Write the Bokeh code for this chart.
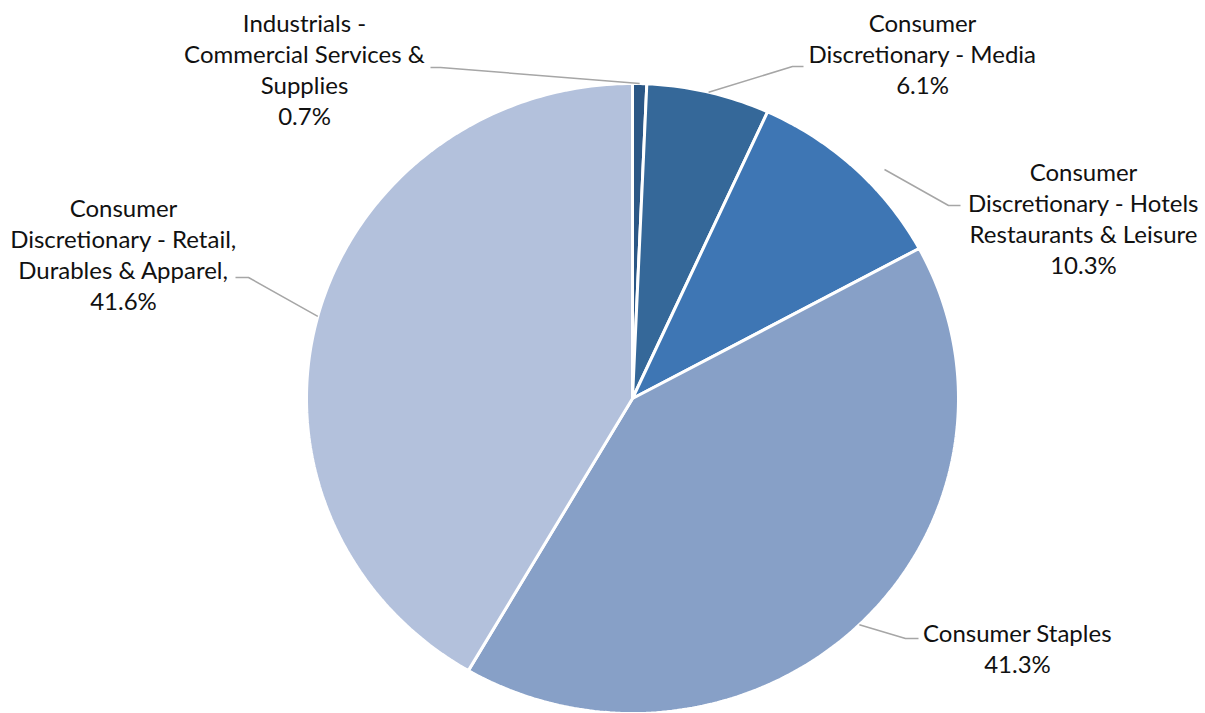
import numpy as np
from bokeh.plotting import figure
from bokeh.models import Range1d, ColumnDataSource
from bokeh.core.properties import value
from bokeh.embed import file_html
from bokeh.resources import INLINE

# ---- data ----
categories = [
    "Industrials -\nCommercial Services &\nSupplies",
    "Consumer\nDiscretionary - Media",
    "Consumer\nDiscretionary - Hotels\nRestaurants & Leisure",
    "Consumer Staples",
    "Consumer\nDiscretionary - Retail,\nDurables & Apparel,",
]
shares = [0.7, 6.1, 10.3, 41.3, 41.6]

# ---- style / layout ----
colors = ["#2B5786", "#356899", "#3E76B4", "#87A0C7", "#B3C1DC"]
W, H = 1205, 713
CX, CY, RX, RY = 632, 398, 326, 315
label_xy = [(304, 22), (922, 22), (1083, 171), (1017, 632), (123, 207)]
start_override = {2: (884, 169)}
elbow_xy = [(440, 67), (792, 66), (948, 205), (905, 638), (248, 277)]
end_xy = [(430, 67), (803, 66), (960, 205), (918, 638), (235, 277)]
LINE_H = 31.0
FONT = "Lato"
FONT_SIZE = "24px"

p = figure(width=W, height=H, output_backend="svg", toolbar_location=None,
           x_range=Range1d(0, W), y_range=Range1d(H, 0), min_border=0,
           outline_line_color=None)
p.axis.visible = False
p.grid.visible = False
p.background_fill_color = "white"
p.border_fill_color = "white"

vals = np.array(shares, dtype=float)
frac = vals / vals.sum()
cum = np.concatenate([[0.0], np.cumsum(frac)])

xs, ys = [], []
for i in range(len(vals)):
    t = np.linspace(cum[i], cum[i + 1], max(8, int(400 * frac[i]))) * 2 * np.pi
    xs.append(list(np.concatenate([[CX], CX + RX * np.sin(t), [CX]])))
    ys.append(list(np.concatenate([[CY], CY - RY * np.cos(t), [CY]])))

p.patches(xs=xs, ys=ys, fill_color=colors, line_color="white", line_width=3)

# leader lines from slice mid-angle on the rim
lx, ly = [], []
for i in range(len(vals)):
    m = (cum[i] + cum[i + 1]) / 2 * 2 * np.pi
    sx, sy = CX + RX * np.sin(m), CY - RY * np.cos(m)
    if i in start_override:
        sx, sy = start_override[i]
    lx.append([sx, elbow_xy[i][0], end_xy[i][0]])
    ly.append([sy, elbow_xy[i][1], end_xy[i][1]])
p.multi_line(xs=lx, ys=ly, line_color="#A6A6A6", line_width=1.5)

# labels
tx, ty, tt = [], [], []
for i, cat in enumerate(categories):
    lines = cat.split("\n") + [f"{shares[i]:.1f}%"]
    for j, ln in enumerate(lines):
        tx.append(label_xy[i][0])
        ty.append(label_xy[i][1] + j * LINE_H)
        tt.append(ln)
src = ColumnDataSource(dict(x=tx, y=ty, text=tt))
p.text(x="x", y="y", text="text", source=src, text_align="center",
       text_baseline="middle", text_font=value(FONT), text_font_size=FONT_SIZE,
       text_color="#111111")

open("out.html", "w").write(file_html(p, INLINE))
